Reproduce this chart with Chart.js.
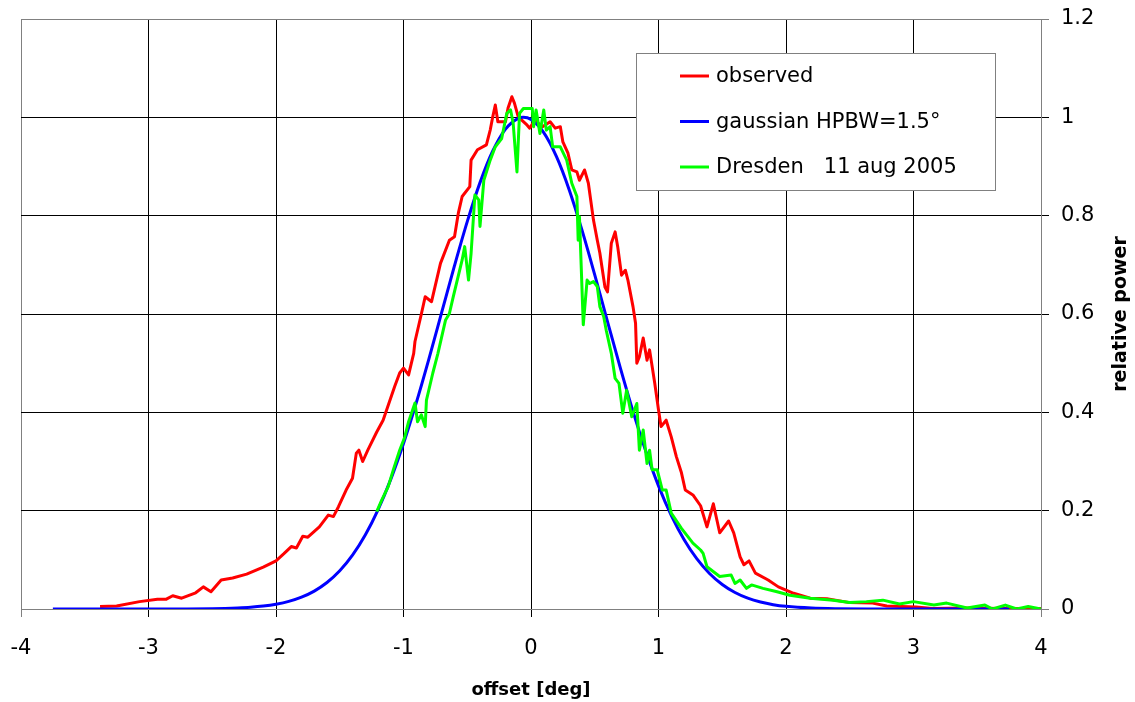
<!DOCTYPE html>
<html>
<head>
<meta charset="utf-8">
<script src="https://cdn.jsdelivr.net/npm/chart.js@4"></script>
<style>
  body { margin: 0; background: #fff; }
  canvas { display: block; }
</style>
</head>
<body>
<canvas id="myChart" width="1135" height="702"></canvas>
<script>
// observed beam scan (red)
let obsX = [-3.38, -3.25, -3.07, -2.93, -2.86, -2.81, -2.74, -2.63, -2.57, -2.51, -2.43, -2.34, -2.23, -2.10, -2.00,
  -1.94, -1.88, -1.84, -1.79, -1.75, -1.66, -1.59, -1.55, -1.51, -1.45, -1.40, -1.37, -1.35, -1.32, -1.28, -1.21,
  -1.16, -1.07, -1.03, -1.00, -0.96, -0.92, -0.91, -0.86, -0.83, -0.78, -0.71, -0.64, -0.60, -0.57, -0.54, -0.48,
  -0.47, -0.42, -0.35, -0.32, -0.30, -0.28, -0.26, -0.20, -0.18, -0.15, -0.13, -0.10, -0.03, -0.01, 0.03, 0.09,
  0.15, 0.19, 0.23, 0.25, 0.29, 0.32, 0.36, 0.38, 0.42, 0.45, 0.49, 0.52, 0.54, 0.58, 0.60, 0.63, 0.66, 0.68,
  0.71, 0.74, 0.76, 0.80, 0.82, 0.83, 0.85, 0.88, 0.91, 0.93, 0.97, 1.00, 1.02, 1.06, 1.10, 1.14, 1.18, 1.21,
  1.27, 1.33, 1.38, 1.43, 1.48, 1.55, 1.59, 1.64, 1.67, 1.71, 1.76, 1.86, 1.94, 2.06, 2.19, 2.32, 2.50, 2.68,
  2.79, 3.02, 3.15, 3.40, 3.70, 4.00];
let obsY = [0.005, 0.006, 0.015, 0.020, 0.020, 0.027, 0.022, 0.033, 0.045, 0.035, 0.059, 0.063, 0.071, 0.085, 0.098,
  0.112, 0.127, 0.124, 0.148, 0.146, 0.167, 0.191, 0.188, 0.208, 0.242, 0.266, 0.317, 0.323, 0.300, 0.323, 0.360,
  0.384, 0.452, 0.480, 0.490, 0.476, 0.520, 0.544, 0.600, 0.635, 0.625, 0.703, 0.750, 0.757, 0.805, 0.839, 0.859,
  0.913, 0.934, 0.944, 0.974, 1.001, 1.025, 0.991, 0.991, 1.019, 1.042, 1.029, 1.001, 0.984, 0.978, 0.994, 0.981,
  0.991, 0.978, 0.981, 0.950, 0.927, 0.893, 0.889, 0.872, 0.893, 0.866, 0.791, 0.750, 0.724, 0.655, 0.645, 0.744, 0.767, 0.737,
  0.679, 0.689, 0.669, 0.615, 0.581, 0.500, 0.513, 0.551, 0.506, 0.527, 0.460, 0.405, 0.371, 0.384, 0.350, 0.310, 0.277, 0.242,
  0.232, 0.210, 0.167, 0.214, 0.155, 0.179, 0.155, 0.106, 0.090, 0.098, 0.073, 0.059, 0.045, 0.032, 0.022, 0.021, 0.013, 0.012,
  0.006, 0.004, 0.001, 0.002, 0.001, 0.001];

// gaussian HPBW=1.5 (blue)
let gaussX = [-3.75, -3.4, -3.0, -2.7, -2.5, -2.4, -2.3, -2.2, -2.1, -2.0, -1.9, -1.8, -1.7, -1.6, -1.5, -1.4, -1.3,
  -1.2, -1.1, -1.0, -0.9, -0.8, -0.7, -0.6, -0.5, -0.4, -0.3, -0.2, -0.1, -0.06, 0.0, 0.1, 0.2, 0.3, 0.4, 0.5, 0.6,
  0.7, 0.8, 0.9, 1.0, 1.1, 1.2, 1.3, 1.4, 1.5, 1.6, 1.7, 1.8, 1.9, 2.0, 2.2, 2.4, 2.7, 3.0, 3.4, 3.75];
let gaussY = [0, 0, 0.00002, 0.0002, 0.0007, 0.0012, 0.0021, 0.0035, 0.0059, 0.0097, 0.0154, 0.024, 0.0364, 0.0538,
  0.0777, 0.1094, 0.1503, 0.2017, 0.2637, 0.3366, 0.4192, 0.5093, 0.6037, 0.6982, 0.7878, 0.8672, 0.9315, 0.9761,
  0.998, 1.0, 0.9956, 0.969, 0.920, 0.8524, 0.7705, 0.6795, 0.5847, 0.4908, 0.4020, 0.3213, 0.2505, 0.1905, 0.1414,
  0.1024, 0.0723, 0.0499, 0.0335, 0.0220, 0.0141, 0.0088, 0.0054, 0.0019, 0.0006, 0.0001, 0, 0, 0];

// Dresden 11 aug 2005 (green)
let dreX = [-1.21, -1.17, -1.12, -1.08, -1.03, -0.99, -0.96, -0.91, -0.89, -0.86, -0.83, -0.82, -0.77, -0.73, -0.67,
  -0.64, -0.61, -0.54, -0.52, -0.49, -0.47, -0.44, -0.41, -0.40, -0.37, -0.32, -0.28, -0.23, -0.19, -0.16, -0.14,
  -0.11, -0.09, -0.06, 0.01, 0.02, 0.04, 0.07, 0.10, 0.12, 0.15, 0.17, 0.23, 0.28, 0.32, 0.36, 0.37, 0.38, 0.41,
  0.44, 0.46, 0.49, 0.52, 0.54, 0.57, 0.59, 0.63, 0.66, 0.69, 0.72, 0.75, 0.79, 0.83, 0.85, 0.88, 0.91, 0.93, 0.95,
  0.99, 1.03, 1.06, 1.10, 1.18, 1.27, 1.33, 1.35, 1.38, 1.48, 1.57, 1.60, 1.64, 1.69, 1.73, 1.82, 1.93, 2.03, 2.19,
  2.37, 2.50, 2.63, 2.76, 2.89, 3.00, 3.16, 3.26, 3.42, 3.56, 3.62, 3.72, 3.81, 3.90, 4.00];
let dreY = [0.198, 0.222, 0.249, 0.283, 0.323, 0.350, 0.381, 0.419, 0.381, 0.395, 0.371, 0.425, 0.480, 0.520, 0.588,
  0.601, 0.635, 0.710, 0.737, 0.669, 0.723, 0.842, 0.832, 0.778, 0.872, 0.913, 0.940, 0.957, 1.008, 1.015, 0.988,
  0.889, 1.008, 1.018, 1.018, 0.981, 1.015, 0.967, 1.015, 0.974, 0.981, 0.940, 0.940, 0.913, 0.866, 0.839, 0.750, 0.798, 0.578,
  0.669, 0.662, 0.666, 0.656, 0.615, 0.595, 0.567, 0.520, 0.469, 0.459, 0.398, 0.445, 0.391, 0.418, 0.323, 0.364, 0.296, 0.323, 0.283,
  0.283, 0.242, 0.242, 0.195, 0.164, 0.134, 0.120, 0.113, 0.086, 0.066, 0.069, 0.052, 0.059, 0.042, 0.049, 0.042, 0.035, 0.028, 0.022,
  0.018, 0.013, 0.015, 0.018, 0.010, 0.015, 0.008, 0.012, 0.002, 0.008, 0.000, 0.008, 0.000, 0.005, 0.000];

let seriesNames = ["observed", "gaussian HPBW=1.5°", "Dresden   11 aug 2005"];
let colors = ['#ff0000', '#0000ff', '#00ff00'];
let xTickLabels = ["-4", "-3", "-2", "-1", "0", "1", "2", "3", "4"];
let yTickLabels = ["0", "0.2", "0.4", "0.6", "0.8", "1", "1.2"];

function pts(xs, ys) {
  return xs.map((x, i) => ({ x: x, y: ys[i] }));
}

const FONT = "'DejaVu Sans', Verdana, sans-serif";

// legend box inside the plot, plus the rotated y title
const extras = {
  id: 'extras',
  afterDatasetsDraw(chart) {
    const c = chart.ctx;
    const bx = 636, by = 53, bw = 359, bh = 137;
    c.save();
    c.fillStyle = '#fff';
    c.fillRect(bx, by, bw, bh);
    c.strokeStyle = '#808080';
    c.lineWidth = 1;
    c.strokeRect(bx + 0.5, by + 0.5, bw, bh);
    c.font = '21px ' + FONT;
    c.textBaseline = 'middle';
    c.fillStyle = '#000';
    for (let i = 0; i < seriesNames.length; i++) {
      const y = by + 23 + i * 45.5;
      c.strokeStyle = colors[i];
      c.lineWidth = 3;
      c.beginPath();
      c.moveTo(bx + 44, y);
      c.lineTo(bx + 73, y);
      c.stroke();
      c.fillText(seriesNames[i], bx + 80, y + 1);
    }
    c.restore();
  },
  afterDraw(chart) {
    const c = chart.ctx;
    const a = chart.chartArea;
    c.save();
    c.translate(1121, (a.top + a.bottom) / 2);
    c.rotate(-Math.PI / 2);
    c.font = 'bold 19px ' + FONT;
    c.textAlign = 'center';
    c.textBaseline = 'middle';
    c.fillStyle = '#000';
    c.fillText('relative power', 0, 0);
    c.restore();
  }
};

function gridColor(edgeA, edgeB) {
  return ctx => {
    const v = ctx.tick ? ctx.tick.value : null;
    return (v === edgeA || Math.abs(v - edgeB) < 1e-9) ? '#808080' : '#000000';
  };
}

function noPad(s) {
  s.paddingTop = 0; s.paddingBottom = 0; s.paddingLeft = 0; s.paddingRight = 0;
}

let ctx = document.getElementById("myChart").getContext('2d');
let myChart = new Chart(ctx, {
  type: 'scatter',
  data: {
    datasets: [
      { label: seriesNames[0], data: pts(obsX, obsY), borderColor: colors[0], borderWidth: 3, order: 3 },
      { label: seriesNames[1], data: pts(gaussX, gaussY), borderColor: colors[1], borderWidth: 3, order: 2,
        cubicInterpolationMode: 'monotone' },
      { label: seriesNames[2], data: pts(dreX, dreY), borderColor: colors[2], borderWidth: 3, order: 1 }
    ]
  },
  options: {
    responsive: false,
    animation: false,
    showLine: true,
    elements: { point: { radius: 0 }, line: { tension: 0, borderJoinStyle: 'round' } },
    layout: { padding: { left: 21, top: 19, right: 0, bottom: 0 } },
    plugins: { legend: { display: false }, tooltip: { enabled: false } },
    scales: {
      x: {
        type: 'linear', position: 'bottom', min: -4, max: 4,
        afterFit: s => { s.height = 93; noPad(s); },
        ticks: {
          stepSize: 1, maxRotation: 0, autoSkip: false, padding: 19, color: '#000',
          font: { family: FONT, size: 21 },
          callback: (v, i) => xTickLabels[i]
        },
        grid: { color: gridColor(-4, 4), lineWidth: 1, tickLength: 8 },
        border: { color: '#808080' },
        title: { display: true, text: 'offset [deg]', color: '#000',
          font: { family: FONT, size: 18, weight: 'bold' }, padding: { top: 0, bottom: 1 } }
      },
      y: {
        type: 'linear', position: 'right', min: 0, max: 1.2,
        afterFit: s => { s.width = 94; noPad(s); },
        ticks: {
          stepSize: 0.2, padding: 12, color: '#000',
          font: { family: FONT, size: 21 },
          callback: (v, i) => yTickLabels[i]
        },
        grid: { color: gridColor(0, 1.2), lineWidth: 1, tickLength: 8 },
        border: { color: '#808080' }
      }
    }
  },
  plugins: [extras]
});
</script>
</body>
</html>
